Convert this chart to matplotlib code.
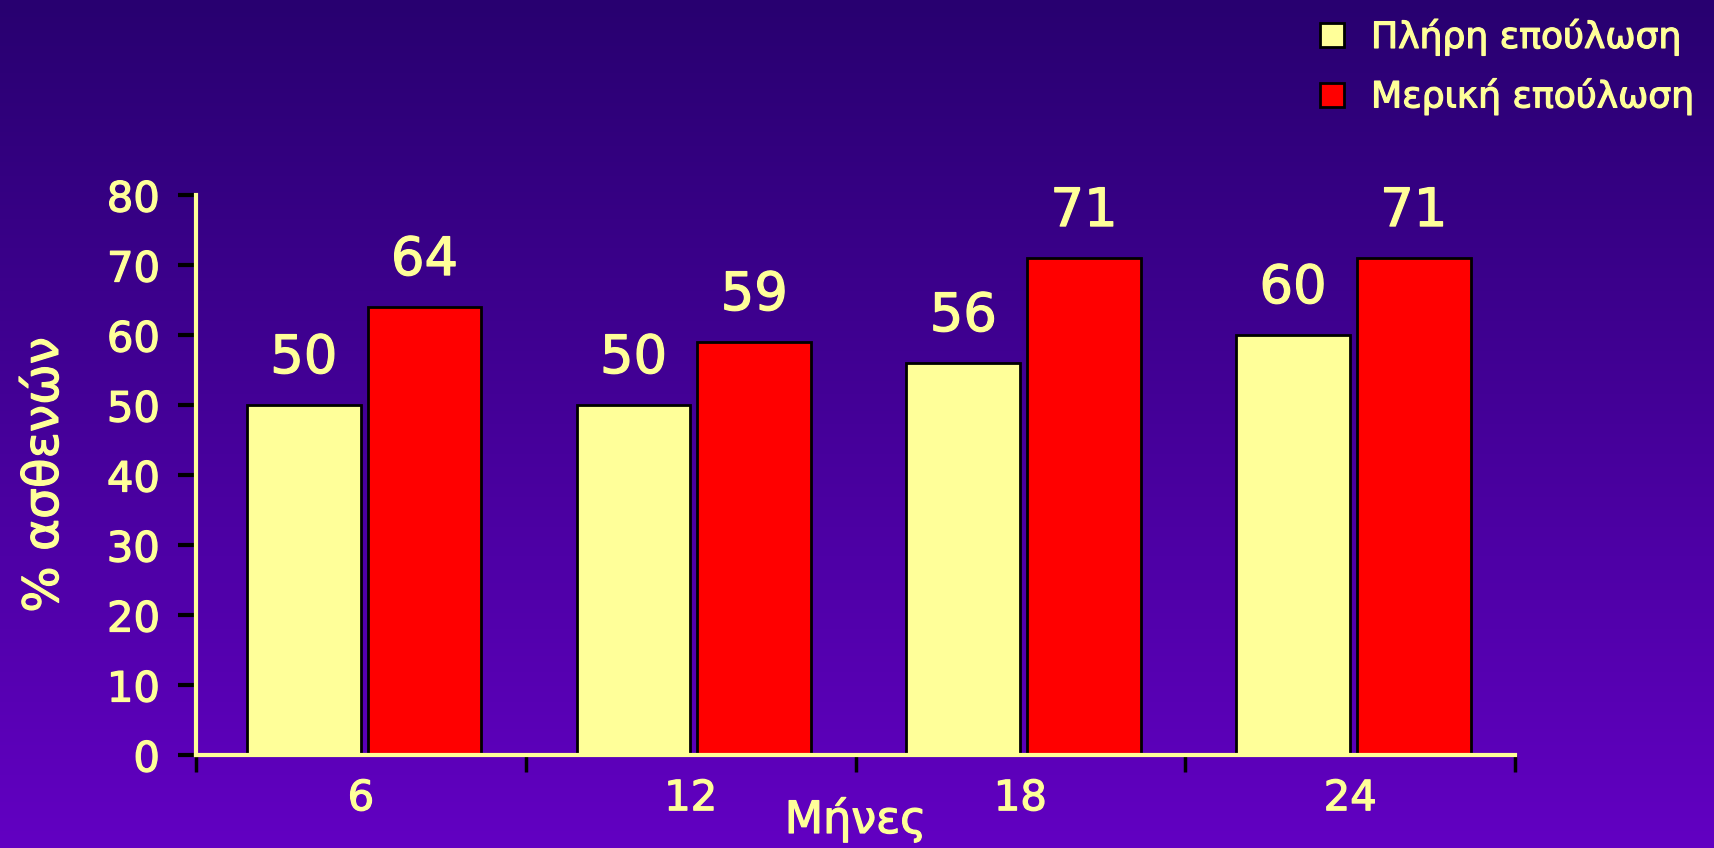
import numpy as np
import matplotlib.pyplot as plt
import matplotlib.patheffects as pe
from matplotlib.patches import Patch

# Δεδομένα
months = ["6", "12", "18", "24"]
full_heal = [50, 50, 56, 60]
partial_heal = [64, 59, 71, 71]
series_names = ["Πλήρη επούλωση", "Μερική επούλωση"]

txt_col = "#ffff99"
yellow = "#ffff99"
red = "#ff0000"

plt.rcParams['font.family'] = ['DejaVu Sans']
thick = [pe.withStroke(linewidth=0.9, foreground=txt_col)]

fig = plt.figure(figsize=(17.15, 8.48), dpi=100)

# φόντο με διαβάθμιση
bg = fig.add_axes([0, 0, 1, 1], zorder=-10)
grad = np.linspace(0, 1, 256).reshape(-1, 1)
top = np.array([40, 0, 112]) / 255
bot = np.array([98, 0, 194]) / 255
img = top + (bot - top) * grad[:, :, None]
bg.imshow(img, aspect="auto", extent=[0, 1, 0, 1])
bg.axis("off")

ax = fig.add_axes([0.1143, 0.1097, 0.7691, 0.6603])
ax.patch.set_alpha(0)

x = np.arange(len(months))
w = 0.345
b1 = ax.bar(x - 0.173, full_heal, w, color=yellow, edgecolor="black", linewidth=2)
b2 = ax.bar(x + 0.193, partial_heal, w, color=red, edgecolor="black", linewidth=2)

for bars, vals in [(b1, full_heal), (b2, partial_heal)]:
    for r, v in zip(bars, vals):
        ax.text(r.get_x() + r.get_width() / 2, v + 3.0, str(v), ha="center", va="bottom",
                color=txt_col, fontsize=38, path_effects=thick)

ax.set_xlim(-0.5, len(months) - 0.5)
ax.set_ylim(0, 80)
ax.set_yticks(range(0, 81, 10))
ax.tick_params(axis="y", colors="black", labelcolor=txt_col, labelsize=30,
               length=13, width=3, direction="out", pad=13)

# κύριες υποδιαιρέσεις στα όρια κατηγοριών, ετικέτες στο κέντρο
ax.set_xticks(np.arange(-0.5, len(months), 1.0))
ax.set_xticklabels([])
ax.set_xticks(x, minor=True)
ax.set_xticklabels(months, minor=True)
ax.tick_params(axis="x", which="major", colors="black", length=12, width=2.5, direction="out")
ax.tick_params(axis="x", which="minor", length=0, labelcolor=txt_col, labelsize=30, pad=16)

for lbl in ax.get_yticklabels() + ax.get_xticklabels(minor=True):
    lbl.set_path_effects(thick)

for s in ["top", "right"]:
    ax.spines[s].set_visible(False)
for s in ["left", "bottom"]:
    ax.spines[s].set_color(yellow)
    ax.spines[s].set_linewidth(3)

ax.set_ylabel("% ασθενών", color=txt_col, fontsize=35, labelpad=28, path_effects=thick)
ax.set_xlabel("Μήνες", color=txt_col, fontsize=32, labelpad=-16, path_effects=thick)

handles = [Patch(facecolor=yellow, edgecolor="black", linewidth=2),
           Patch(facecolor=red, edgecolor="black", linewidth=2)]
leg = fig.legend(handles, series_names, loc="upper left", bbox_to_anchor=(0.751, 1.016),
                 frameon=False, fontsize=26, handlelength=0.65, handleheight=0.65,
                 handletextpad=0.75, labelspacing=0.65)
for t in leg.get_texts():
    t.set_color(txt_col)
    t.set_path_effects(thick)

fig.savefig("out.png", dpi=100)
